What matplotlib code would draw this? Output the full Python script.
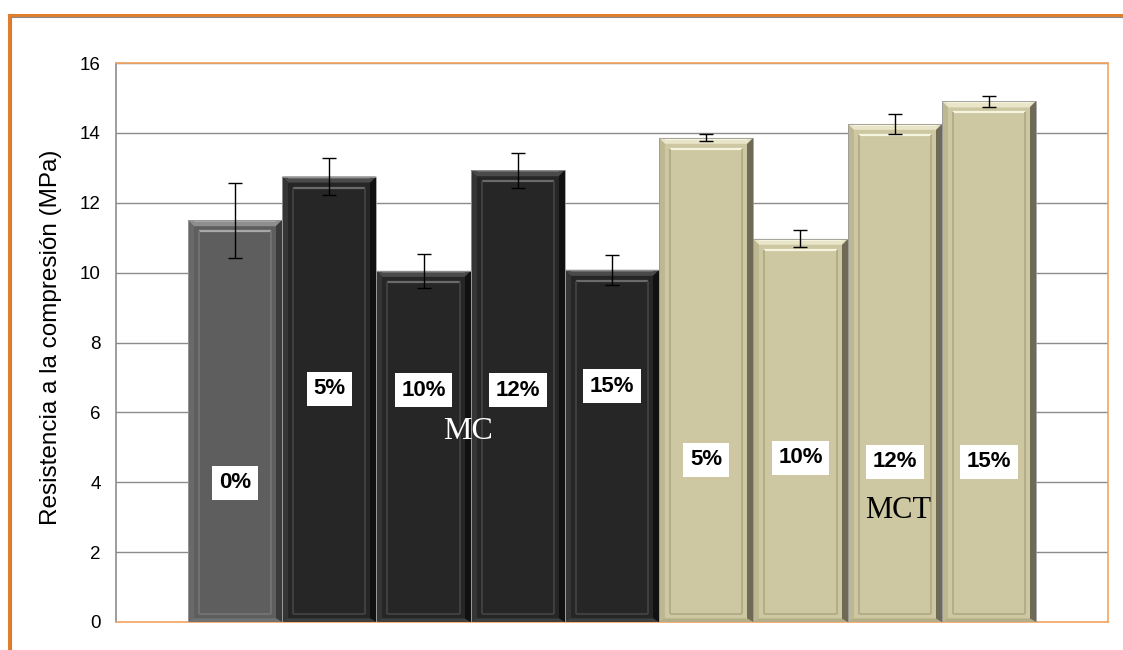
import matplotlib
matplotlib.use("Agg")
import matplotlib.pyplot as plt
from matplotlib.patches import Polygon, Rectangle
from matplotlib.lines import Line2D

# Compressive strength of mortars by replacement percentage
mix_labels = ["0%", "5%", "10%", "12%", "15%", "5%", "10%", "12%", "15%"]
strength = [11.5, 12.75, 10.05, 12.93, 10.08, 13.86, 10.97, 14.26, 14.9]
strength_err = [1.07, 0.52, 0.48, 0.5, 0.42, 0.1, 0.25, 0.28, 0.15]
label_height = [3.98, 6.67, 6.64, 6.64, 6.75, 4.64, 4.7, 4.58, 4.58]
group_names = ["MC", "MCT"]
group_pos = [(2.47, 5.44), (7.04, 3.2)]
y_ticks = [0, 2, 4, 6, 8, 10, 12, 14, 16]

W, H = 1123, 650
fig = plt.figure(figsize=(W / 100, H / 100), dpi=100)
fig.patch.set_facecolor("white")

# outer frame (orange with grey inner line)
fig.add_artist(Line2D([9 / W, 1], [1 - 15 / H, 1 - 15 / H], color="#e27d2c", lw=2.2))
fig.add_artist(Line2D([9 / W, 9 / W], [0, 1 - 15 / H], color="#e27d2c", lw=2.2))
fig.add_artist(Line2D([11 / W, 1], [1 - 17 / H, 1 - 17 / H], color="#8a8a8a", lw=0.8))
fig.add_artist(Line2D([11 / W, 11 / W], [0, 1 - 17 / H], color="#8a8a8a", lw=0.8))

ax_l, ax_r, ax_t, ax_b = 116, 1108, 63, 622
ax = fig.add_axes([ax_l / W, 1 - ax_b / H, (ax_r - ax_l) / W, (ax_b - ax_t) / H])

bar_px = 94.2
margin = (188 - ax_l) / bar_px
xmin, xmax = -0.5 - margin, 8.5 + margin
ax.set_xlim(xmin, xmax)
ax.set_ylim(0, 16)
px_x = (xmax - xmin) / (ax_r - ax_l)
px_y = 16 / (ax_b - ax_t)

ax.set_yticks(y_ticks)
ax.set_yticklabels([str(t) for t in y_ticks], fontsize=13.5, family="Liberation Sans")
ax.tick_params(axis="y", length=0, pad=11)
ax.set_xticks([])
ax.yaxis.grid(True, color="#8c8c8c", lw=1.0)
ax.set_axisbelow(True)
for s in ["top", "right", "bottom"]:
    ax.spines[s].set_color("#f4a461")
    ax.spines[s].set_linewidth(1.2)
ax.spines["left"].set_color("#8c8c8c")
ax.spines["left"].set_linewidth(1.2)
ax.set_ylabel("Resistencia a la compresión (MPa)", fontsize=17.5,
              family="Liberation Sans")
ax.yaxis.set_label_coords((62 - ax_l) / (ax_r - ax_l), 0.509)

x = list(range(len(strength)))
styles = (
    [dict(face="#5e5e5e", light="#8e8e8e", hl="#a8a8a8", dark="#3a3a3a", inner="#727272")]
    + [dict(face="#262626", light="#4a4a4a", hl="#6a6a6a", dark="#111111", inner="#404040")] * 4
    + [dict(face="#cdc8a2", light="#e9e5c9", hl="#f6f3df", dark="#6e6a56", inner="#b3ad88")] * 4
)
bars = ax.bar(x, strength, width=1.0, color=[s["face"] for s in styles],
              edgecolor="none", zorder=2)

b = 6      # bevel width, px
ins = 11   # inner frame inset, px
for patch, st in zip(bars, styles):
    x0, w, h = patch.get_x(), patch.get_width(), patch.get_height()
    x1 = x0 + w
    bx, by = b * px_x, b * px_y
    # top bevel (light)
    ax.add_patch(Polygon([(x0, h), (x1, h), (x1 - bx, h - by), (x0 + bx, h - by)],
                         closed=True, fc=st["light"], ec="none", zorder=3))
    ax.add_patch(Rectangle((x0 + bx, h - 2 * px_y), w - 2 * bx, 1.2 * px_y,
                           fc=st["hl"], ec="none", zorder=3.1))
    # right bevel (dark)
    ax.add_patch(Polygon([(x1, h), (x1, 0), (x1 - bx, 0), (x1 - bx, h - by)],
                         closed=True, fc=st["dark"], ec="none", zorder=3))
    # left bevel
    ax.add_patch(Polygon([(x0, h), (x0, 0), (x0 + bx, 0), (x0 + bx, h - by)],
                         closed=True, fc=st["inner"], ec="none", zorder=3, alpha=0.6))
    # bottom bevel
    ax.add_patch(Polygon([(x0, 0), (x1, 0), (x1 - bx, by * 0.6), (x0 + bx, by * 0.6)],
                         closed=True, fc=st["inner"], ec="none", zorder=3))
    # inner frame lines
    ix0, ix1 = x0 + ins * px_x, x1 - ins * px_x
    iy0, iy1 = ins * px_y * 0.7, h - ins * px_y
    ax.plot([ix0, ix1], [iy1, iy1], color=st["hl"], lw=1.6, zorder=3.2, solid_capstyle="butt")
    ax.plot([ix0, ix0], [iy0, iy1], color=st["inner"], lw=1.4, zorder=3.2, solid_capstyle="butt")
    ax.plot([ix1, ix1], [iy0, iy1], color=st["inner"], lw=1.4, zorder=3.2, solid_capstyle="butt")
    ax.plot([ix0, ix1], [iy0, iy0], color=st["inner"], lw=1.4, zorder=3.2, solid_capstyle="butt")
    # thin outline
    ax.add_patch(Rectangle((x0, 0), w, h, fc="none", ec="#9a9a9a", lw=0.6, zorder=3.3))

ax.errorbar(x, strength, yerr=strength_err, fmt="none", ecolor="black",
            elinewidth=1.0, capsize=5, capthick=1.0, zorder=5)

for xi, yi, lab in zip(x, label_height, mix_labels):
    ax.text(xi, yi, lab, ha="center", va="center", fontsize=16, fontweight="bold",
            family="Liberation Sans", zorder=6,
            bbox=dict(boxstyle="square,pad=0.3", fc="white", ec="none"))

ax.text(*group_pos[0], group_names[0], ha="center", va="center", fontsize=23,
        family="Liberation Serif", color="white", zorder=6)
ax.text(*group_pos[1], group_names[1], ha="center", va="center", fontsize=22,
        family="Liberation Serif", color="black", zorder=6)

fig.savefig("out.png", dpi=100, facecolor="white")
